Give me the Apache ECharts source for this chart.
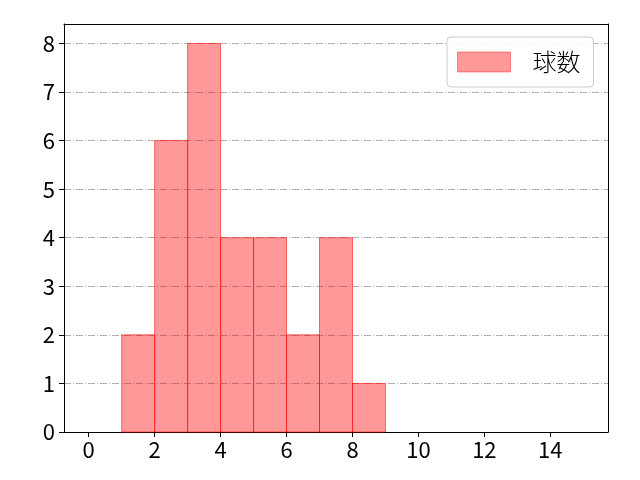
<!DOCTYPE html>
<html><head><meta charset="utf-8">
<script src="https://cdn.jsdelivr.net/npm/echarts@6/dist/echarts.min.js"></script>
<style>html,body{margin:0;padding:0;background:#fff}#c{width:640px;height:480px}</style>
</head><body><div id="c"></div>
<script>
const seriesName = '球数';
const binEdges = [1, 2, 3, 4, 5, 6, 7, 8, 9];
const counts = [2, 6, 8, 4, 4, 2, 4, 1];
const xTicks = [0, 2, 4, 6, 8, 10, 12, 14];
const yTicks = [0, 1, 2, 3, 4, 5, 6, 7, 8];

const data = counts.map((c, i) => [binEdges[i], binEdges[i + 1], c]);
const font = '"Noto Sans CJK JP", "Noto Sans", sans-serif';
const chart = echarts.init(document.getElementById('c'));
chart.setOption({
  animation: false,
  backgroundColor: '#fff',
  grid: { left: 64, right: 32, top: 24, bottom: 48 },
  legend: {
    left: 447, top: 37,
    padding: [13, 13, 13, 10],
    backgroundColor: 'rgba(255,255,255,0.9)',
    borderColor: '#cccccc', borderWidth: 1, borderRadius: 4,
    itemWidth: 53, itemHeight: 20, itemGap: 0,
    icon: 'rect',
    textStyle: { fontFamily: font, fontSize: 24, fontWeight: 300, color: '#000', lineHeight: 20, padding: [0, 0, 0, 17] },
    data: [{ name: seriesName, itemStyle: { color: 'rgba(255,0,0,0.4)', borderColor: 'rgba(255,0,0,0.4)', borderWidth: 1 } }]
  },
  xAxis: [{
    type: 'value', min: -0.75, max: 15.75,
    axisLine: { show: true, lineStyle: { color: '#000', width: 1 } },
    axisTick: { show: true, length: 5, lineStyle: { color: '#000' }, customValues: xTicks },
    axisLabel: { customValues: xTicks, color: '#000', fontSize: 22, fontFamily: font, margin: 7 },
    splitLine: { show: false }
  }, {
    type: 'value', position: 'top', min: -0.75, max: 15.75,
    axisLine: { show: true, onZero: false, lineStyle: { color: '#000', width: 1 } },
    axisTick: { show: false }, axisLabel: { show: false }, splitLine: { show: false }
  }],
  yAxis: [{
    type: 'value', min: 0, max: 8.4, interval: 1,
    axisLine: { show: true, onZero: false, lineStyle: { color: '#000', width: 1 } },
    axisTick: { show: true, length: 5, lineStyle: { color: '#000' }, customValues: yTicks },
    axisLabel: { customValues: yTicks, color: '#000', fontSize: 22, fontFamily: font, margin: 9 },
    splitLine: { show: true, showMinLine: false,
      lineStyle: { color: '#b0b0b0', width: 1, type: [7, 2, 1, 2] } }
  }, {
    type: 'value', position: 'right', min: 0, max: 8.4,
    axisLine: { show: true, onZero: false, lineStyle: { color: '#000', width: 1 } },
    axisTick: { show: false }, axisLabel: { show: false }, splitLine: { show: false }
  }],
  series: [{
    name: seriesName,
    type: 'custom',
    xAxisIndex: 0, yAxisIndex: 0,
    encode: { x: [0, 1], y: 2 },
    itemStyle: { color: 'rgba(255,0,0,0.4)', borderColor: 'rgba(255,0,0,0.4)', borderWidth: 1 },
    renderItem: function (params, api) {
      const p0 = api.coord([api.value(0), api.value(2)]);
      const p1 = api.coord([api.value(1), 0]);
      return {
        type: 'rect',
        shape: { x: p0[0], y: p0[1], width: p1[0] - p0[0], height: p1[1] - p0[1] },
        style: { fill: 'rgba(255,0,0,0.4)', stroke: 'rgba(255,0,0,0.55)', lineWidth: 1 }
      };
    },
    data: data
  }]
});
</script></body></html>
